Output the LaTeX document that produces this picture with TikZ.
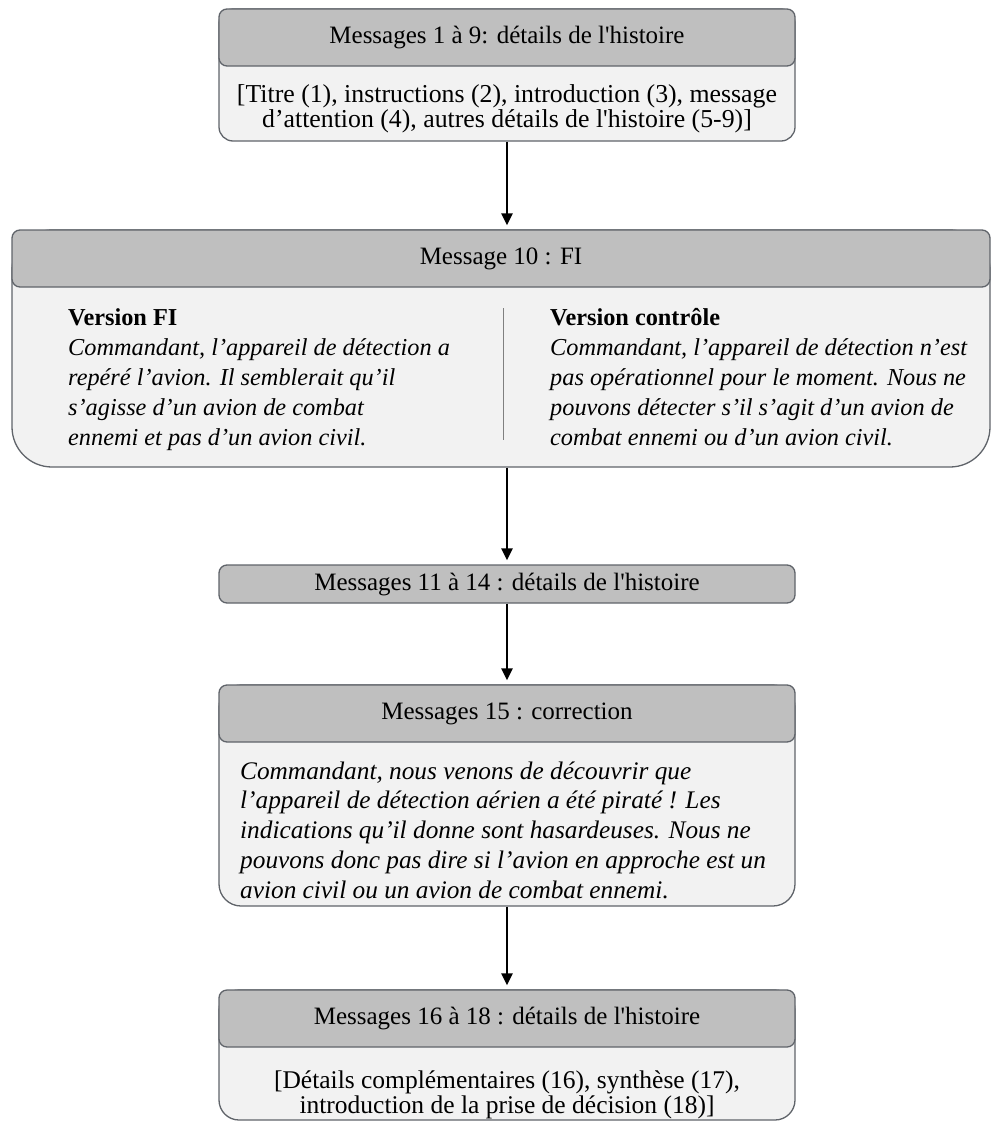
\documentclass[tikz,border=0pt]{standalone}
\usepackage{fontspec}
\setmainfont{Liberation Serif}
\usetikzlibrary{arrows.meta}
\definecolor{headgray}{RGB}{191,191,191}
\definecolor{bodygray}{RGB}{242,242,242}
\definecolor{edgegray}{RGB}{96,100,106}
\begin{document}
\begin{tikzpicture}[x=1pt,y=-1pt,
    header/.style ={rectangle, rounded corners=8pt, draw=edgegray, line width=1.3pt, fill=headgray,
                    inner sep=0pt, minimum width=576pt, minimum height=57pt, font=\fontsize{25}{28}\selectfont},
    panel/.style  ={rectangle, rounded corners=14pt, draw=edgegray, line width=1.3pt, fill=bodygray,
                    inner sep=0pt, minimum width=576pt},
    story/.style  ={align=center, inner sep=0pt, font=\fontsize{25.5}{25}\selectfont},
    speech/.style ={align=left, inner sep=0pt, anchor=north west, font=\fontsize{24.3}{30}\selectfont\itshape},
    flow/.style   ={-{Triangle[length=12pt,width=11pt]}, line width=2.6pt, shorten >=4pt}]
   \useasboundingbox (0,0) rectangle (992,1122);

   \node[panel, minimum height=132pt] (b1) at (507,75) {};
   \node[header] (h1) at (507,37.5) {Messages 1 à 9: détails de l\textquotesingle histoire};
   \node[story, font=\fontsize{25.8}{25}\selectfont] (t1) at (507,109) {[Titre (1), instructions (2), introduction (3), message\\
         d’attention (4), autres détails de l\textquotesingle histoire (5-9)]};

   \node[panel, rounded corners=40pt, minimum width=978pt, minimum height=237pt] (b2) at (501,348.5) {};
   \node[header, minimum width=978pt] (h2) at (501,258.5) {Message 10 : FI};
   \node[speech] (fi) at (68,308.5) {{\upshape\bfseries Version FI}\\
         Commandant, l’appareil de détection a\\
         repéré l’avion. Il semblerait qu’il\\
         s’agisse d’un avion de combat\\
         ennemi et pas d’un avion civil.};
   \node[speech] (ctrl) at (550,308.5) {{\upshape\bfseries Version contrôle}\\
         Commandant, l’appareil de détection n’est\\
         pas opérationnel pour le moment. Nous ne\\
         pouvons détecter s’il s’agit d’un avion de\\
         combat ennemi ou d’un avion civil.};
   \coordinate (s1) at (503,308);
   \coordinate (s2) at (503,440);
   \draw[gray, line width=0.8pt] (s1) -- (s2);

   \node[header, minimum height=38pt] (h3) at (507,584) {Messages 11 à 14 : détails de l\textquotesingle histoire};

   \node[panel, rounded corners=22pt, minimum height=221pt] (b4) at (507,795.5) {};
   \node[header] (h4) at (507,713.5) {Messages 15 : correction};
   \node[speech, font=\fontsize{25.3}{29.7}\selectfont\itshape] (t4) at (240,761.5) {Commandant, nous venons de découvrir que\\
         l’appareil de détection aérien a été piraté ! Les\\
         indications qu’il donne sont hasardeuses. Nous ne\\
         pouvons donc pas dire si l’avion en approche est un\\
         avion civil ou un avion de combat ennemi.};

   \node[panel, rounded corners=20pt, minimum height=130pt] (b5) at (507,1055) {};
   \node[header] (h5) at (507,1018.5) {Messages 16 à 18 : détails de l\textquotesingle histoire};
   \node[story] (t5) at (507,1095) {[Détails complémentaires (16), synthèse (17),\\
         introduction de la prise de décision (18)]};

   \draw[flow] (b1.south) -- (b1.south |- h2.north);
   \draw[flow] (b2.south -| h3.north) -- (h3.north);
   \draw[flow] (h3.south) -- (h4.north);
   \draw[flow] (b4.south) -- (h5.north);
\end{tikzpicture}
\end{document}
